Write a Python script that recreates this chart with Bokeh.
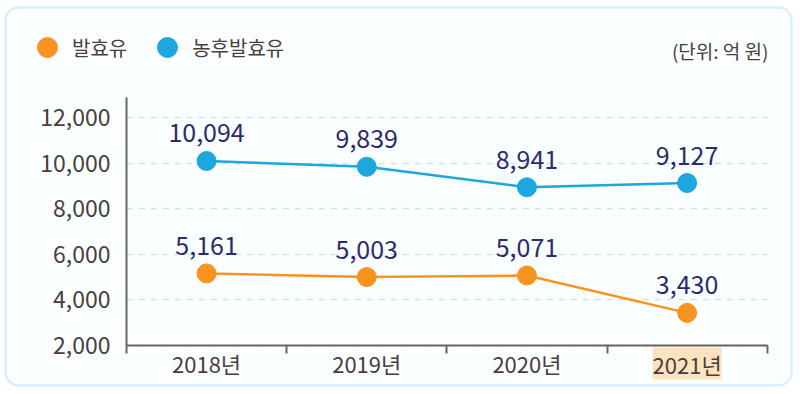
from bokeh.plotting import figure
from bokeh.models import FixedTicker, Legend, LegendItem, Label, NumeralTickFormatter, BoxAnnotation
from bokeh.core.properties import value
from bokeh.embed import file_html
from bokeh.resources import INLINE

years = ["2018년", "2019년", "2020년", "2021년"]
fermented = [5161, 5003, 5071, 3430]          # 발효유
thick_fermented = [10094, 9839, 8941, 9127]   # 농후발효유
y_ticks = [2000, 4000, 6000, 8000, 10000, 12000]
unit_text = "(단위: 억 원)"

FONT = "Noto Sans CJK KR"
BG = "#f4fcfd"
AXIS = "#6e6262"
TXT = "#4a3d3d"
NAVY = "#2d2b6b"
ORANGE = "#f7931e"
BLUE = "#1ca7de"

W, H = 800, 394
xs = [i + 0.5 for i in range(len(years))]

# frame covers the whole figure; axes pinned inside it
p = figure(width=W, height=H, x_range=(-0.7865, 4.208), y_range=(-149, 17132),
           output_backend="svg", toolbar_location=None,
           min_border_left=0, min_border_right=0, min_border_top=0, min_border_bottom=0)
p.background_fill_color = "white"
p.border_fill_color = "white"
p.outline_line_color = None

card = BoxAnnotation(left=5, right=791, bottom=9, top=387,
                     left_units="screen", right_units="screen",
                     bottom_units="screen", top_units="screen",
                     fill_color=BG, line_color="#84cff0", line_width=2.5, level="underlay")
if "border_radius" in card.properties():
    card.border_radius = 13
p.add_layout(card)

# x axis
p.xaxis.fixed_location = y_ticks[0]
p.xaxis.bounds = (0, len(years))
p.xaxis.ticker = FixedTicker(ticks=xs, minor_ticks=list(range(len(years) + 1)))
p.xaxis.major_label_overrides = {x: (y if i < len(years) - 1 else "") for i, (x, y) in enumerate(zip(xs, years))}
p.xaxis.major_tick_out = 0
p.xaxis.major_tick_in = 0
p.xaxis.minor_tick_out = 8
p.xaxis.minor_tick_in = 0
p.xaxis.minor_tick_line_color = AXIS
p.xaxis.minor_tick_line_width = 2
p.xaxis.axis_line_color = AXIS
p.xaxis.axis_line_width = 2
p.xaxis.major_label_text_font = FONT
p.xaxis.major_label_text_font_size = "22px"
p.xaxis.major_label_text_color = TXT
p.xaxis.major_label_standoff = -7

# y axis
p.yaxis.fixed_location = 0
p.yaxis.bounds = (y_ticks[0], 12875)
p.yaxis.ticker = FixedTicker(ticks=y_ticks)
p.yaxis.formatter = NumeralTickFormatter(format="0,0")
p.yaxis.major_tick_out = 0
p.yaxis.major_tick_in = 0
p.yaxis.minor_tick_out = 0
p.yaxis.axis_line_color = AXIS
p.yaxis.axis_line_width = 2
p.yaxis.major_label_text_font = FONT
p.yaxis.major_label_text_font_size = "23px"
p.yaxis.major_label_text_color = TXT
p.yaxis.major_label_standoff = 16

p.xgrid.visible = False
p.ygrid.ticker = FixedTicker(ticks=y_ticks)
if "cross_bounds" in p.ygrid[0].properties():
    p.ygrid.cross_bounds = (0, len(years))
p.ygrid.grid_line_color = "#cccccc"
p.ygrid.grid_line_dash = "6 6"
p.ygrid.grid_line_width = 1.5

# series
p.line(xs, thick_fermented, line_color=BLUE, line_width=2.5)
r_blue = p.scatter(xs, thick_fermented, size=19, fill_color=BLUE, line_color=BLUE)
p.line(xs, fermented, line_color=ORANGE, line_width=2.5)
r_orange = p.scatter(xs, fermented, size=19, fill_color=ORANGE, line_color=ORANGE)

for vals in (thick_fermented, fermented):
    p.text(x=xs, y=vals, text=[f"{v:,}" for v in vals], text_align="center",
           text_baseline="middle", y_offset=-28, text_font=value(FONT),
           text_font_size="25px", text_color=NAVY)

# legend
legend = Legend(items=[LegendItem(label="발효유", renderers=[r_orange]),
                       LegendItem(label="농후발효유", renderers=[r_blue])],
                orientation="horizontal", location=(22, 322),
                glyph_width=50, glyph_height=50, label_standoff=0, spacing=15,
                padding=0, margin=0, border_line_color=None, background_fill_alpha=0,
                label_text_font=FONT, label_text_font_size="20px", label_text_color=TXT)
p.add_layout(legend, "center")

# unit label
p.add_layout(Label(x=768, y=344, x_units="screen", y_units="screen", text=unit_text,
                   text_align="right", text_baseline="middle", text_font=FONT,
                   text_font_size="19px", text_color=TXT))

# highlighted last category label
p.add_layout(Label(x=xs[-1], y=31, x_units="data", y_units="screen", text=years[-1],
                   text_align="center", text_baseline="middle", text_font=FONT,
                   text_font_size="22px", text_color=TXT, background_fill_color="#fde2c0",
                   padding=0))

open("out.html", "w").write(file_html(p, INLINE))
